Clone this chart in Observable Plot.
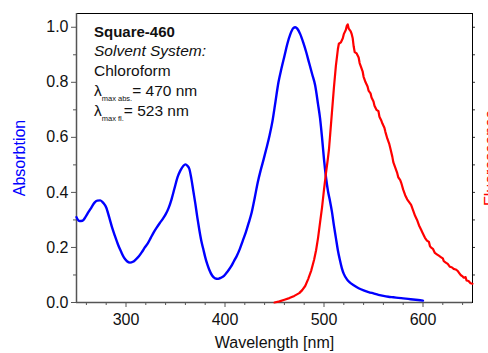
<!DOCTYPE html>
<html>
<head>
<meta charset="utf-8">
<script src="https://cdn.jsdelivr.net/npm/d3@7"></script>
<script src="https://cdn.jsdelivr.net/npm/@observablehq/plot@0.6"></script>
<style>
  html, body { margin: 0; padding: 0; background: white; }
  #chart { width: 488px; height: 353px; overflow: hidden; }
</style>
</head>
<body>
<div id="chart"></div>
<script>
// Absorption spectrum (blue)
const absWavelength = [250,253,256,259,262,265,268,271,274,277,280,283,286,289,292,295,298,301,304,307,310,313,316,319,322,325,328,331,334,337,340,343,346,349,352,355,358,360,362,364,366,368,370,372,374,376,378,380,382,384,387,390,393,396,399,402,406,409,412,415,418,421,424,427,430,433,436,439,442,445,448,451,454,457,460,463,466,469,471,473,476,479,482,485,488,491,494,496,498,500,502,504,506,508,510,512,514,516,518,520,523,526,530,535,540,545,550,555,560,565,570,575,580,585,590,595,600];
const absValue = [0.31,0.296,0.297,0.31,0.328,0.345,0.362,0.37,0.371,0.362,0.345,0.31,0.272,0.24,0.21,0.185,0.163,0.15,0.145,0.148,0.157,0.168,0.183,0.2,0.215,0.235,0.255,0.272,0.288,0.303,0.32,0.343,0.375,0.415,0.455,0.48,0.497,0.502,0.497,0.485,0.45,0.405,0.36,0.31,0.265,0.225,0.195,0.165,0.14,0.12,0.098,0.088,0.086,0.09,0.097,0.11,0.13,0.15,0.17,0.195,0.225,0.255,0.29,0.328,0.38,0.435,0.48,0.52,0.562,0.607,0.66,0.73,0.8,0.85,0.895,0.94,0.975,0.997,1.0,0.995,0.975,0.945,0.91,0.87,0.83,0.79,0.72,0.67,0.6,0.52,0.455,0.405,0.37,0.33,0.28,0.235,0.19,0.155,0.125,0.104,0.085,0.073,0.063,0.052,0.044,0.038,0.033,0.028,0.024,0.021,0.019,0.017,0.015,0.013,0.011,0.009,0.007];

// Fluorescence spectrum (red)
const flWavelength = [450,455,460,465,470,475,478,481,484,487,490,492,494,496,498,500,502,504,505,506,508,510,512,514,515,517,519,520,522,523,524,525,527,528,529,530,531,533,535,536,537,539,540,542,544,545,547,548,550,551,553,555,556,558,559,561,562,564,566,567,569,570,572,574,575,577,578,580,582,584,586,588,590,592,594,596,598,600,602,604,606,607,608,610,612,614,616,618,620,621,623,625,627,629,631,633,635,637,638,640,641,643,644,646,648,650];
const flValue = [0.0,0.004,0.01,0.016,0.024,0.034,0.045,0.06,0.085,0.115,0.155,0.19,0.235,0.29,0.345,0.41,0.47,0.525,0.555,0.6,0.69,0.78,0.86,0.92,0.94,0.945,0.96,0.975,0.99,1.005,1.01,0.995,0.985,0.975,0.96,0.93,0.91,0.905,0.89,0.87,0.86,0.84,0.82,0.8,0.785,0.77,0.76,0.745,0.73,0.715,0.7,0.695,0.675,0.66,0.65,0.635,0.62,0.595,0.575,0.56,0.53,0.51,0.49,0.47,0.455,0.445,0.435,0.41,0.39,0.375,0.365,0.355,0.335,0.315,0.3,0.28,0.265,0.25,0.235,0.225,0.22,0.205,0.2,0.195,0.18,0.175,0.17,0.165,0.16,0.15,0.145,0.14,0.13,0.128,0.122,0.12,0.115,0.105,0.1,0.095,0.09,0.092,0.08,0.078,0.07,0.068];

// Ticks
const xMajorTicks = [300, 400, 500, 600];
const xMinorTicks = [260,280,320,340,360,380,420,440,460,480,520,540,560,580,620,640];
const yMajorTicks = [0, 0.2, 0.4, 0.6, 0.8, 1.0];
const yMinorTicks = [0.1, 0.3, 0.5, 0.7, 0.9];
const yRightTicks = [0.1,0.2,0.3,0.4,0.5,0.6,0.7,0.8,0.9,1.0];

// Labels
const xTitle = "Wavelength [nm]";
const yLeftTitle = "Absorbtion";
const yRightTitle = "Fluorescence";
const annoTitle = "Square-460";
const annoSolvent = "Solvent System:";
const annoSolventName = "Chloroform";
const annoAbs = ["λ", "max abs.", "= 470 nm"];
const annoFl = ["λ", "max fl.", "= 523 nm"];

const absData = absWavelength.map((w, i) => ({w, v: absValue[i]}));
const flData = flWavelength.map((w, i) => ({w, v: flValue[i]}));

const axisGray = "#555";

const plot = Plot.plot({
  width: 488,
  height: 353,
  marginLeft: 76,
  marginRight: 16,
  marginTop: 13,
  marginBottom: 51,
  x: {domain: [250, 650]},
  y: {domain: [0, 1.05]},
  style: {fontFamily: "'Liberation Sans', Arial, sans-serif", fontSize: "16px", background: "white", color: "black", overflow: "visible"},
  marks: [
    Plot.frame({stroke: "black"}),
    Plot.axisX(xMinorTicks, {tickSize: 3, tickFormat: () => "", label: null, stroke: axisGray}),
    Plot.axisX(xMajorTicks, {tickSize: 5, tickPadding: 6, label: null, stroke: axisGray, fill: "#111"}),
    Plot.axisY(yMinorTicks, {anchor: "left", tickSize: 3, tickFormat: () => "", label: null, stroke: axisGray}),
    Plot.axisY(yMajorTicks, {anchor: "left", tickSize: 5, tickPadding: 3, tickFormat: d3.format(".1f"), label: null, stroke: axisGray, fill: "#111"}),
    Plot.axisY(yRightTicks, {anchor: "right", tickSize: 2, tickFormat: () => "", label: null, stroke: "#333"}),
    Plot.ruleX([250], {stroke: axisGray, strokeWidth: 1.5}),
    Plot.ruleY([0], {stroke: axisGray, strokeWidth: 1.5}),
    Plot.line(absData, {x: "w", y: "v", stroke: "#0000ff", strokeWidth: 2.4, curve: "monotone-x"}),
    Plot.line(flData, {x: "w", y: "v", stroke: "#ff0000", strokeWidth: 2.2}),
    Plot.text([xTitle], {frameAnchor: "bottom", text: d => d, dy: 40, textAnchor: "middle", lineAnchor: "middle", fontSize: 16, fill: "#111"}),
    Plot.text([yLeftTitle], {frameAnchor: "left", text: d => d, rotate: -90, dx: -57, textAnchor: "middle", lineAnchor: "middle", fontSize: 16, fill: "#0000ff"}),
    Plot.text([yRightTitle], {frameAnchor: "right", text: d => d, rotate: -90, dx: 18, textAnchor: "middle", lineAnchor: "middle", fontSize: 16, fill: "#ff0000"})
  ]
});

document.getElementById("chart").appendChild(plot);

// Annotation block with subscripts
const svg = d3.select(plot);
const g = svg.append("g")
  .attr("font-family", "'Liberation Sans', Arial, sans-serif")
  .attr("text-anchor", "start")
  .attr("fill", "#111");
const ax = 94;
g.append("text").attr("x", ax).attr("y", 36.5).attr("font-size", 15).attr("font-weight", "bold").text(annoTitle);
g.append("text").attr("x", ax).attr("y", 56).attr("font-size", 15.5).attr("font-style", "italic").text(annoSolvent);
g.append("text").attr("x", ax).attr("y", 76).attr("font-size", 15.5).text(annoSolventName);
function subLine(parts, y) {
  const t = g.append("text").attr("x", ax).attr("y", y).attr("font-size", 15.5);
  t.append("tspan").text(parts[0]);
  t.append("tspan").attr("font-size", 7.5).attr("dy", 4.5).text(parts[1]);
  t.append("tspan").attr("dy", -4.5).text(parts[2]);
}
subLine(annoAbs, 96);
subLine(annoFl, 116);
</script>
</body>
</html>
